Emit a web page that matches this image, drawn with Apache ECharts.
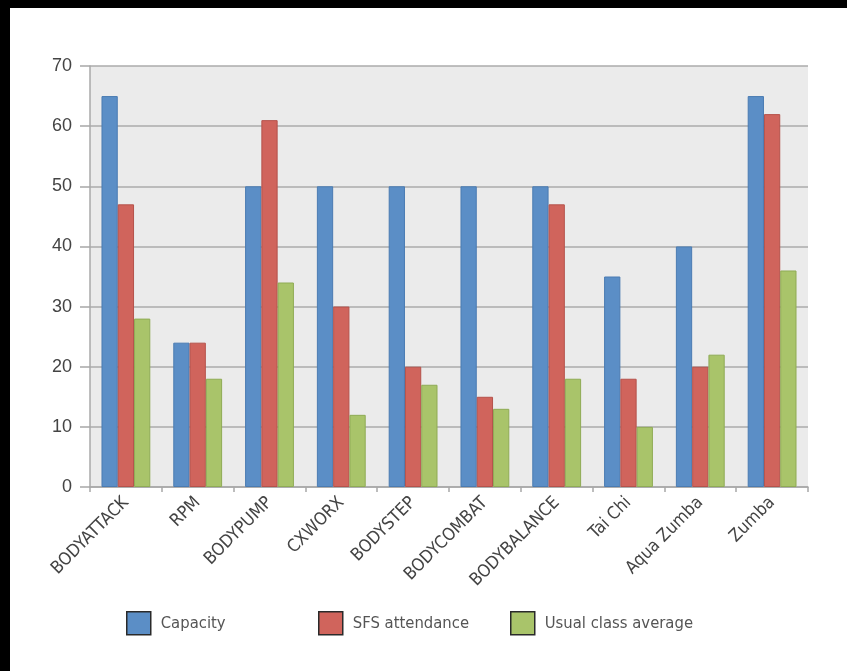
<!DOCTYPE html>
<html>
<head>
<meta charset="utf-8">
<script src="https://cdn.jsdelivr.net/npm/echarts@6/dist/echarts.min.js"></script>
<style>
html,body{margin:0;padding:0;background:#fff;}
#chart{width:847px;height:671px;}
</style>
</head>
<body>
<div id="chart"></div>
<script>
const categories = ['BODYATTACK','RPM','BODYPUMP','CXWORX','BODYSTEP','BODYCOMBAT','BODYBALANCE','Tai Chi','Aqua Zumba','Zumba'];
const capacity = [65, 24, 50, 50, 50, 50, 50, 35, 40, 65];
const sfsAttendance = [47, 24, 61, 30, 20, 15, 47, 18, 20, 62];
const usualAverage = [28, 18, 34, 12, 17, 13, 18, 10, 22, 36];
const seriesNames = ['Capacity', 'SFS attendance', 'Usual class average'];
const yTicks = [0, 10, 20, 30, 40, 50, 60, 70];

const fills = ['#5b8ec6', '#d0645c', '#a9c46a'];
const edges = ['#4a7bb2', '#b5524b', '#8fab55'];
const narrow = "'Liberation Sans Narrow','DejaVu Sans Condensed','Arial Narrow',sans-serif";
const regular = "'Liberation Sans',Arial,sans-serif";

const chart = echarts.init(document.getElementById('chart'), null, {renderer: 'canvas'});

const dataSets = [capacity, sfsAttendance, usualAverage];
const legendLefts = [121, 313, 505];

chart.setOption({
  backgroundColor: '#ffffff',
  animation: false,
  grid: {
    left: 90, right: 39, top: 66, bottom: 184,
    show: true, backgroundColor: '#ebebeb', borderWidth: 0
  },
  legend: seriesNames.map((n, i) => ({
    data: [n],
    left: legendLefts[i],
    top: 606,
    itemWidth: 24,
    itemHeight: 23,
    icon: 'rect',
    itemStyle: {borderColor: '#2a2a2a', borderWidth: 1.5},
    textStyle: {fontFamily: narrow, fontSize: 16.5, color: '#555', padding: [0, 0, 0, 5]},
    selectedMode: false
  })),
  xAxis: {
    type: 'category',
    data: categories,
    boundaryGap: true,
    axisLine: {show: true, lineStyle: {color: '#a8a8a8', width: 1.5}},
    axisTick: {show: true, length: 5, lineStyle: {color: '#a8a8a8', width: 1.5}},
    axisLabel: {
      rotate: 45, interval: 0, margin: 13,
      fontFamily: narrow, fontSize: 17.5, color: '#444'
    },
    splitLine: {show: false}
  },
  yAxis: {
    type: 'value',
    min: yTicks[0], max: yTicks[yTicks.length - 1], interval: 10,
    axisLine: {show: true, lineStyle: {color: '#a8a8a8', width: 1.5}},
    axisTick: {show: true, inside: false, length: 10, lineStyle: {color: '#a8a8a8', width: 1.5}},
    axisLabel: {margin: 18, fontFamily: regular, fontSize: 18, color: '#444'},
    splitLine: {show: true, lineStyle: {color: '#ababab', width: 1.5}}
  },
  series: seriesNames.map((n, i) => ({
    name: n,
    type: 'bar',
    data: dataSets[i],
    barGap: '0%',
    barCategoryGap: '32%',
    itemStyle: {color: fills[i], borderColor: edges[i], borderWidth: 1}
  })),
  graphic: [
    {type: 'rect', left: 0, top: 0, shape: {width: 10, height: 671}, style: {fill: '#000'}, z: 100},
    {type: 'rect', left: 0, top: 0, shape: {width: 847, height: 8}, style: {fill: '#000'}, z: 100}
  ]
});
</script>
</body>
</html>
